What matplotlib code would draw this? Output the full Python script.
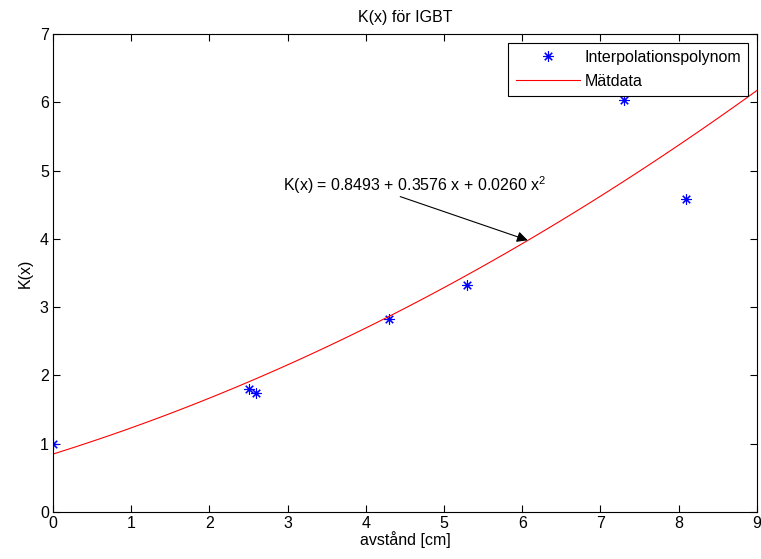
import numpy as np
import matplotlib
matplotlib.use("Agg")
import matplotlib.pyplot as plt

plt.rcParams['font.family'] = ['Liberation Sans', 'DejaVu Sans']
plt.rcParams['font.size'] = 11.5

# Measured points
x_meas = [0.0, 2.5, 2.6, 4.3, 5.3, 7.3, 8.1]
k_meas = [1.00, 1.80, 1.75, 2.83, 3.32, 6.04, 4.58]

# Fitted second degree polynomial, K(x) = c0 + c1 x + c2 x^2
coef = [0.8493, 0.3576, 0.0260]

t = np.linspace(0, 9, 91)
k_fit = coef[0] + coef[1] * t + coef[2] * t ** 2

fig = plt.figure(figsize=(7.61, 5.59), dpi=100)
ax = fig.add_axes((0.0696, 0.084, 0.925, 0.855))

ax.plot(x_meas, k_meas, linestyle="none", marker=(8, 2, 0), color="#0000ff",
        markersize=7.5, markeredgewidth=0.8, label="Interpolationspolynom")
ax.plot(t, k_fit, "-", color="#ff0000", linewidth=0.8, label="Mätdata")

ax.set_xlim(0, 9)
ax.set_ylim(0, 7)
ax.set_xticks(range(0, 10))
ax.set_yticks(range(0, 8))
ax.tick_params(direction="in", top=True, right=True, length=5, pad=3)
for s in ax.spines.values():
    s.set_linewidth(0.8)

ax.set_title("K(x) för IGBT", fontsize=11.5, pad=9)
ax.set_xlabel("avstånd [cm]", labelpad=0)
ax.set_ylabel("K(x)", labelpad=5)

# equation text and arrow to the curve
ax.text(2.94, 4.79, "K(x) = %.4f + %.4f x + %.4f x$^{\\mathregular{2}}$" % tuple(coef),
        fontsize=11.5, va="center")
ax.annotate("", xy=(6.07, 3.98), xytext=(4.44, 4.62),
            arrowprops=dict(arrowstyle="-|>", color="black", lw=0.8,
                            mutation_scale=16, shrinkA=0, shrinkB=0))

leg = ax.legend(loc="upper right", fancybox=False, framealpha=1,
                edgecolor="black", borderaxespad=0.55, handlelength=4.0,
                handletextpad=0.3, borderpad=0.45, labelspacing=0.55,
                fontsize=11.5)
leg.get_frame().set_linewidth(0.8)

fig.savefig("out.png", dpi=100)
